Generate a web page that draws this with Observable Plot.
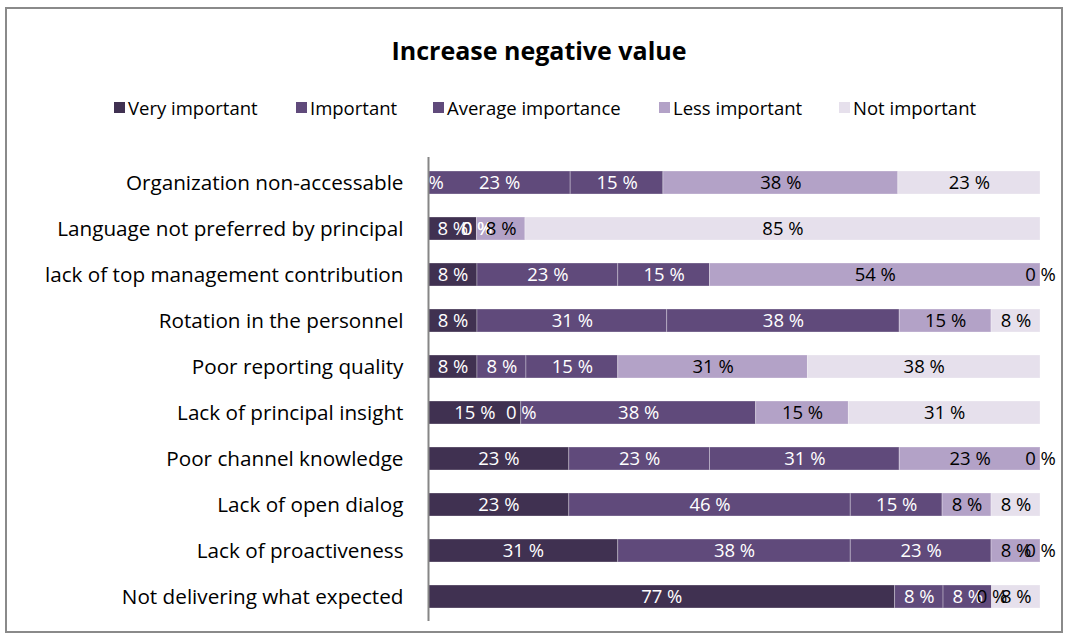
<!DOCTYPE html>
<html>
<head>
<meta charset="utf-8">
<script src="https://cdn.jsdelivr.net/npm/d3@7"></script>
<script src="https://cdn.jsdelivr.net/npm/@observablehq/plot@0.6"></script>
<style>
  html, body { margin: 0; padding: 0; background: #fff; }
  body { width: 1070px; height: 638px; position: relative; overflow: hidden; font-family: "Open Sans", sans-serif; color: #000; }
  #frame { position: absolute; left: 5px; top: 7px; width: 1058px; height: 626px; border: 2px solid #8a8a8a; box-sizing: border-box; }
  #title { position: absolute; left: 4px; top: 34px; width: 1070px; text-align: center; font-weight: bold; font-size: 25px; line-height: 32px; }
  .leg { position: absolute; top: 96px; height: 22px; display: flex; align-items: center; font-size: 18.5px; white-space: nowrap; }
  .sw { width: 11px; height: 11px; margin-right: 3px; display: inline-block; }
  #chart { position: absolute; left: 0; top: 140px; }
</style>
</head>
<body>
<div id="frame"></div>
<div id="title"></div>
<div id="legend"></div>
<div id="chart"></div>
<script>
const title = "Increase negative value";
const categories = [
  "Organization non-accessable",
  "Language not preferred by principal",
  "lack of top management contribution",
  "Rotation in the personnel",
  "Poor reporting quality",
  "Lack of principal insight",
  "Poor channel knowledge",
  "Lack of open dialog",
  "Lack of proactiveness",
  "Not delivering what expected"
];
const seriesNames = ["Very important", "Important", "Average importance", "Less important", "Not important"];
const veryImportant = [0, 8, 8, 8, 8, 15, 23, 23, 31, 77];
const important     = [23, 0, 23, 31, 8, 0, 23, 46, 38, 8];
const average       = [15, 0, 15, 38, 15, 38, 31, 15, 23, 8];
const lessImportant = [38, 8, 54, 15, 31, 15, 23, 8, 8, 0];
const notImportant  = [23, 85, 0, 8, 38, 31, 0, 8, 0, 8];
const seriesValues = [veryImportant, important, average, lessImportant, notImportant];
const colors = ["#403151", "#604a7b", "#604a7b", "#b3a2c7", "#e6e0ec"];
const whiteLabelSeries = ["Very important", "Important", "Average importance"];
const legendX = [114, 296, 433, 659, 839];

document.getElementById("title").textContent = title;
const legend = document.getElementById("legend");
seriesNames.forEach((s, j) => {
  const item = document.createElement("div");
  item.className = "leg";
  item.style.left = legendX[j] + "px";
  const sw = document.createElement("span");
  sw.className = "sw";
  sw.style.background = colors[j];
  item.appendChild(sw);
  item.appendChild(document.createTextNode(s));
  legend.appendChild(item);
});

const rows = [];
categories.forEach((c, i) => {
  seriesNames.forEach((s, j) => rows.push({cat: c, series: s, value: seriesValues[j][i]}));
});

const stackOpts = {x: "value", y: "cat", z: "series", offset: "normalize"};
const chart = Plot.plot({
  width: 1070,
  height: 491,
  marginLeft: 428,
  marginRight: 30,
  marginTop: 17,
  marginBottom: 10,
  style: {fontFamily: '"Open Sans", sans-serif', background: "transparent", overflow: "visible", color: "#000"},
  x: {domain: [0, 1], axis: null},
  y: {domain: categories, paddingInner: 0.5, paddingOuter: 0.25, axis: null},
  color: {domain: seriesNames, range: colors},
  marks: [
    Plot.barX(rows, {x: "value", y: "cat", fill: "series", offset: "normalize", stroke: "#ffffff", strokeOpacity: 0.3, strokeWidth: 1}),
    Plot.text(rows, Plot.stackX({...stackOpts, text: d => whiteLabelSeries.includes(d.series) ? `${d.value} %` : null, fill: "#ffffff", fontSize: 18.5})),
    Plot.text(rows, Plot.stackX({...stackOpts, text: d => whiteLabelSeries.includes(d.series) ? null : `${d.value} %`, fill: "#000000", fontSize: 18.5})),
    Plot.ruleX([0], {stroke: "#868686", strokeWidth: 2}),
    Plot.axisY({tickSize: 0, tickPadding: 25, fontSize: 20.7, fill: "#000", label: null})
  ]
});
document.getElementById("chart").appendChild(chart);
</script>
</body>
</html>
